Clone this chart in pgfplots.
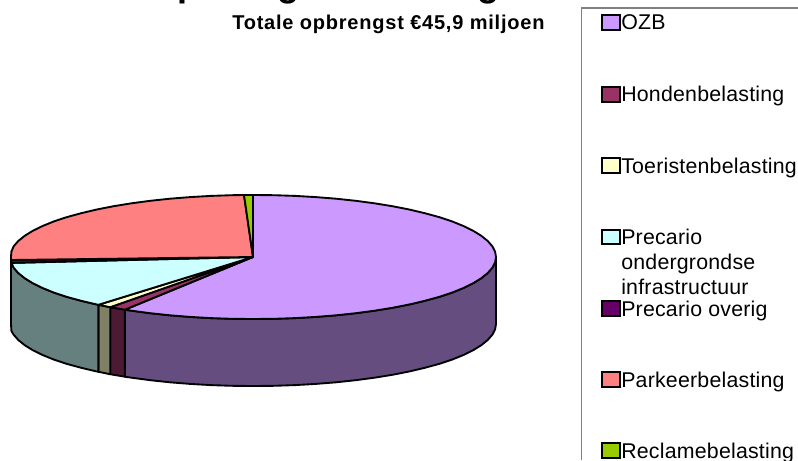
\documentclass[border=0pt]{standalone}
\usepackage{fontspec}
\setmainfont{Liberation Sans}
\usepackage{pgfplots}
\pgfplotsset{compat=1.18}
\definecolor{ozb}{RGB}{204,153,255}
\definecolor{ozbside}{RGB}{102,77,128}
\definecolor{honden}{RGB}{153,51,102}
\definecolor{hondenside}{RGB}{77,26,51}
\definecolor{toerist}{RGB}{255,255,204}
\definecolor{toeristside}{RGB}{128,128,102}
\definecolor{preond}{RGB}{204,255,255}
\definecolor{preondside}{RGB}{102,128,128}
\definecolor{preov}{RGB}{102,0,102}
\definecolor{parkeer}{RGB}{255,128,128}
\definecolor{reclame}{RGB}{153,204,0}
\definecolor{legframe}{RGB}{128,128,128}
\pgfplotsset{
  slice/.style={draw=black, line width=1.4pt, line join=round},
  swatch/.style={draw=black, line width=1.1pt, line join=miter},
}
\newfontfamily\legfont[LetterSpace=1]{Liberation Sans}
\newfontfamily\subfont[LetterSpace=3.9]{Liberation Sans}
\newcommand{\leg}[2]{\node[anchor=base west, inner sep=0pt, font=\legfont\fontsize{16}{18}\selectfont] at (axis cs:621,#1) {#2};}
\begin{document}
\begin{tikzpicture}
\path[use as bounding box, clip] (0,0) rectangle (598.5pt,345pt);
\begin{axis}[
  at={(0,0)}, anchor=south west,
  scale only axis, width=598.5pt, height=345pt,
  xmin=0, xmax=798, ymin=0, ymax=460, y dir=reverse,
  hide axis, clip=false,
]
% sides of the pie, pixel positions
\addplot[slice, fill=ozbside] coordinates {
  (124.9,309.7)(131.5,310.7)(150.3,313.2)(169.9,315.3)(190.1,316.9)(210.8,318.1)(231.8,318.8)(253,319)
  (274.2,318.8)(295.2,318.1)(315.9,316.9)(336.1,315.3)(355.7,313.2)(374.5,310.7)(392.4,307.8)(409.2,304.5)
  (424.8,300.8)(439.1,296.9)(452.1,292.6)(463.4,288)(473.2,283.2)(481.3,278.2)(487.7,273)(492.3,267.8)
  (495.1,262.4)(496,257)
  (496,324)(495.1,329.4)(492.3,334.8)(487.7,340)(481.3,345.2)(473.2,350.2)(463.4,355)(452.1,359.6)
  (439.1,363.9)(424.8,367.8)(409.2,371.5)(392.4,374.8)(374.5,377.7)(355.7,380.2)(336.1,382.3)(315.9,383.9)
  (295.2,385.1)(274.2,385.8)(253,386)(231.8,385.8)(210.8,385.1)(190.1,383.9)(169.9,382.3)(150.3,380.2)
  (131.5,377.7)(124.9,376.7)} -- cycle;
\addplot[slice, fill=hondenside] coordinates {
  (110.2,307.2)(124.9,309.7)(124.9,376.7)(110.2,374.2)} -- cycle;
\addplot[slice, fill=toeristside] coordinates {
  (98.4,304.8)(110.2,307.2)(110.2,374.2)(98.4,371.8)} -- cycle;
\addplot[slice, fill=preondside] coordinates {
  (11,257)(11.4,262.4)(13.7,267.8)(18.3,273)(24.7,278.2)(32.8,283.2)(42.6,288)(53.9,292.6)(66.9,296.9)
  (81.2,300.8)(96.8,304.5)(98.4,304.8)
  (98.4,371.8)(96.8,371.5)(81.2,367.8)(66.9,363.9)(53.9,359.6)(42.6,355)(32.8,350.2)(24.7,345.2)
  (18.3,340)(13.7,334.8)(11.4,331)(11,324)} -- cycle;
% top face
\addplot[slice, fill=ozb] coordinates {
  (253,257)(124.9,309.7)(131.5,310.7)(150.3,313.2)(169.9,315.3)(190.1,316.9)(210.8,318.1)(231.8,318.8)(253,319)
  (274.2,318.8)(295.2,318.1)(315.9,316.9)(336.1,315.3)(355.7,313.2)(374.5,310.7)(392.4,307.8)(409.2,304.5)
  (424.8,300.8)(439.1,296.9)(452.1,292.6)(463.4,288)(473.2,283.2)(481.3,278.2)(487.7,273)(492.3,267.8)
  (495.1,262.4)(496,257)(495.1,251.6)(492.3,246.2)(487.7,241)(481.3,235.8)(473.2,230.8)(463.4,226)
  (452.1,221.4)(439.1,217.1)(424.8,213.2)(409.2,209.5)(392.4,206.2)(374.5,203.3)(355.7,200.8)(336.1,198.7)
  (315.9,197.1)(295.2,195.9)(274.2,195.2)(253,195)} -- cycle;
\addplot[slice, fill=honden] coordinates {(253,257)(110.2,307.2)(124.9,309.7)} -- cycle;
\addplot[slice, fill=toerist] coordinates {(253,257)(98.4,304.8)(110.2,307.2)} -- cycle;
\addplot[slice, fill=preond] coordinates {
  (253,257)(11.4,262.9)(13.7,267.8)(18.3,273)(24.7,278.2)(32.8,283.2)(42.6,288)(53.9,292.6)(66.9,296.9)
  (81.2,300.8)(96.8,304.5)(98.4,304.8)} -- cycle;
\addplot[slice, fill=preov] coordinates {(253,257)(11,260)(11.4,262.9)} -- cycle;
\addplot[slice, fill=parkeer] coordinates {
  (253,257)(244,195)(231.8,195.2)(210.8,195.9)(190.1,197.1)(169.9,198.7)(150.3,200.8)(131.5,203.3)(113.6,206.2)
  (96.8,209.5)(81.2,213.2)(66.9,217.1)(53.9,221.4)(42.6,226)(32.8,230.8)(24.7,235.8)(18.3,241)(13.7,246.2)
  (11.4,251.6)(11,257)(11,260)} -- cycle;
\addplot[slice, fill=reclame] coordinates {(253,257)(253,195)(244,195)} -- cycle;
% legend
\addplot[legframe, line width=1.1pt] coordinates {(798,8)(581.5,8)(581.5,460)};
\addplot[swatch, fill=ozb] coordinates {(602,15)(620,15)(620,30)(602,30)} -- cycle;
\addplot[swatch, fill=honden] coordinates {(602,87)(620,87)(620,102)(602,102)} -- cycle;
\addplot[swatch, fill=toerist] coordinates {(602,158)(620,158)(620,173)(602,173)} -- cycle;
\addplot[swatch, fill=preond] coordinates {(602,230)(620,230)(620,244)(602,244)} -- cycle;
\addplot[swatch, fill=preov] coordinates {(602,301)(620,301)(620,316)(602,316)} -- cycle;
\addplot[swatch, fill=parkeer] coordinates {(602,372)(620,372)(620,387)(602,387)} -- cycle;
\addplot[swatch, fill=reclame] coordinates {(602,443)(620,443)(620,458)(602,458)} -- cycle;
\leg{30}{OZB}
\leg{101.5}{Hondenbelasting}
\leg{173}{Toeristenbelasting}
\leg{244}{Precario}
\leg{269}{ondergrondse}
\leg{294}{infrastructuur}
\leg{316}{Precario overig}
\leg{387}{Parkeerbelasting}
\leg{458}{Reclamebelasting}
% titles, the big one runs off the top of the picture
\node[anchor=base west, inner sep=0pt, font=\fontsize{27}{30}\selectfont\bfseries] at (axis cs:149,-3) {Opbrengst belastingen};
\node[anchor=base west, inner sep=0pt, font=\subfont\fontsize{15}{17}\selectfont\bfseries] at (axis cs:232,29.5) {Totale opbrengst €45,9 miljoen};
\end{axis}
\end{tikzpicture}
\end{document}
